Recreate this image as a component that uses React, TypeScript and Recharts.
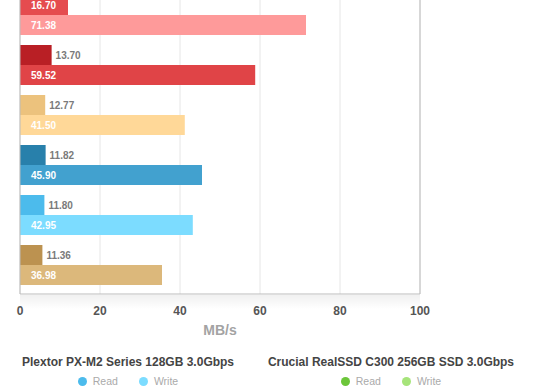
import React from 'react';
import { BarChart, Bar, XAxis, YAxis, CartesianGrid, Cell, LabelList, ReferenceLine, Legend } from 'recharts';

const categories = ['Test 1', 'Test 2', 'Test 3', 'Test 4', 'Test 5', 'Test 6'];
const readBar = [12.0, 7.9, 6.3, 6.4, 6.1, 5.6];
const readShown = ['16.70', '13.70', '12.77', '11.82', '11.80', '11.36'];
const writeBar = [71.5, 58.8, 41.2, 45.5, 43.2, 35.5];
const writeShown = ['71.38', '59.52', '41.50', '45.90', '42.95', '36.98'];
const readColors = ['#e54c4f', '#b91f25', '#ecc27d', '#2880ab', '#4cbbec', '#bc9250'];
const writeColors = ['#fe9a9a', '#e04447', '#ffd898', '#42a1cf', '#7cdcff', '#dcb87b'];
const xTicks = [0, 20, 40, 60, 80, 100];
const legendGroups = [
  { title: 'Plextor PX-M2 Series 128GB 3.0Gbps', center: 128, items: [{ name: 'Read', color: '#4cbbec' }, { name: 'Write', color: '#7cdcff' }] },
  { title: 'Crucial RealSSD C300 256GB SSD 3.0Gbps', center: 391, items: [{ name: 'Read', color: '#6cc63a' }, { name: 'Write', color: '#a6e47a' }] },
];

const data = categories.map((name, i) => ({
  name,
  read: readBar[i],
  readText: readShown[i],
  write: writeBar[i],
  writeText: writeShown[i],
}));

const FONT = '"Liberation Sans", Arial, Helvetica, sans-serif';

const ReadLabel = (props: any) => {
  const vb = props.viewBox || props;
  const x = Number(vb.x), y = Number(vb.y), w = Number(vb.width), h = Number(vb.height);
  const inside = w > 40;
  return (
    <text
      x={inside ? x + 11 : x + w + 4}
      y={y + h / 2 + 3.5}
      fill={inside ? '#ffffff' : '#7a7a7a'}
      fontSize={10}
      fontWeight="bold"
      fontFamily={FONT}
    >
      {props.value}
    </text>
  );
};

const WriteLabel = (props: any) => {
  const vb = props.viewBox || props;
  const x = Number(vb.x), y = Number(vb.y), h = Number(vb.height);
  return (
    <text x={x + 11} y={y + h / 2 + 3.5} fill="#ffffff" fontSize={10} fontWeight="bold" fontFamily={FONT}>
      {props.value}
    </text>
  );
};

const LegendContent = () => (
  <div style={{ position: 'relative', width: 560, height: 40, fontFamily: FONT }}>
    {legendGroups.map((g) => (
      <div key={g.title} style={{ position: 'absolute', left: g.center - 140, width: 280, top: 0, textAlign: 'center' }}>
        <div style={{ fontSize: 12, fontWeight: 'bold', color: '#444', lineHeight: '14px', height: 14, marginTop: 5 }}>{g.title}</div>
        <div style={{ marginTop: 6, lineHeight: '13px', height: 13, fontSize: 10.5, color: '#aaa', whiteSpace: 'nowrap' }}>
          {g.items.map((it, k) => (
            <span key={it.name} style={{ display: 'inline-block', marginLeft: k ? 21 : 0 }}>
              <span style={{ display: 'inline-block', width: 9, height: 9, borderRadius: '50%', background: it.color, verticalAlign: '-1px', marginRight: 6 }} />
              {it.name}
            </span>
          ))}
        </div>
      </div>
    ))}
  </div>
);

export default function App() {
  return (
    <div style={{ position: 'absolute', left: 0, top: -20, width: 560, height: 420 }}>
      <div
        style={{
          position: 'absolute',
          left: 20,
          top: 315,
          width: 400,
          height: 14,
          background: 'linear-gradient(to bottom, rgba(0,0,0,0.06), rgba(0,0,0,0))',
        }}
      />
      <BarChart
        width={560}
        height={420}
        data={data}
        layout="vertical"
        margin={{ top: 10, right: 140, left: 0, bottom: 76 }}
        barCategoryGap={5}
        barGap={0}
      >
        <CartesianGrid horizontal={false} stroke="#e6e6e6" />
        <XAxis
          type="number"
          domain={[0, 100]}
          ticks={xTicks}
          tickLine={false}
          tickMargin={6}
          axisLine={{ stroke: '#bbbbbb' }}
          tick={{ fill: '#555', fontSize: 12, fontWeight: 'bold', fontFamily: FONT }}
          label={{ value: 'MB/s', position: 'bottom', offset: 1, fill: '#a3a3a3', fontSize: 14, fontWeight: 'bold', fontFamily: FONT }}
        />
        <YAxis
          type="category"
          dataKey="name"
          width={20}
          tick={false}
          tickLine={false}
          axisLine={{ stroke: '#bbbbbb' }}
          padding={{ top: 0, bottom: 4 }}
        />
        <ReferenceLine x={100} stroke="#bbbbbb" />
        <Bar dataKey="read" isAnimationActive={false}>
          {data.map((d, i) => (
            <Cell key={d.name} fill={readColors[i]} />
          ))}
          <LabelList dataKey="readText" content={ReadLabel} />
        </Bar>
        <Bar dataKey="write" isAnimationActive={false}>
          {data.map((d, i) => (
            <Cell key={d.name} fill={writeColors[i]} />
          ))}
          <LabelList dataKey="writeText" content={WriteLabel} />
        </Bar>
        <Legend
          layout="horizontal"
          verticalAlign="middle"
          align="center"
          wrapperStyle={{ top: 370, left: 0, width: 560 }}
          content={LegendContent}
        />
      </BarChart>
    </div>
  );
}
